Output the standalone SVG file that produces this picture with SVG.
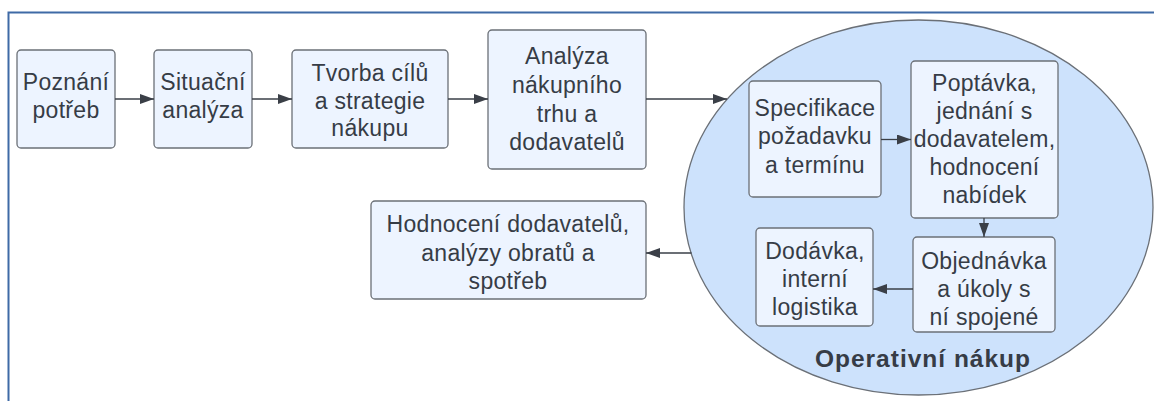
<svg xmlns="http://www.w3.org/2000/svg" width="1154" height="401" viewBox="0 0 1154 401">
  <defs>
    <marker id="arrow" markerWidth="14" markerHeight="10" refX="14" refY="5" orient="auto" markerUnits="userSpaceOnUse">
      <path d="M0,0 L14,5 L0,10 Z" fill="#3a3f47"/>
    </marker>
    <style>
      .frame { fill: none; stroke: #3f6aa6; stroke-width: 2; }
      .box { fill: #edf4ff; stroke: #6b7077; stroke-width: 1.3; }
      .group { fill: #cde2fc; stroke: #6b7077; stroke-width: 1.3; }
      .lbl { font-family: "Liberation Sans", Arial, sans-serif; font-size: 23px; letter-spacing: 0.3px; fill: #363c46; text-anchor: middle; }
      .title { font-family: "Liberation Sans", Arial, sans-serif; font-size: 24.5px; font-weight: bold; letter-spacing: 1px; fill: #363c46; text-anchor: middle; }
      .conn { fill: none; stroke: #3a3f47; stroke-width: 1.3; marker-end: url(#arrow); }
    </style>
  </defs>

  <rect width="1154" height="401" fill="#ffffff"/>

  <!-- page frame: top and left edges only -->
  <path class="frame" d="M8.5,401 L8.5,12.5 L1154,12.5"/>

  <g id="poznani-potreb">
    <rect class="box" x="17" y="50" width="98" height="98" rx="4"/>
    <text class="lbl"><tspan x="66" y="90">Poznání</tspan><tspan x="66" y="118">potřeb</tspan></text>
  </g>

  <g id="situacni-analyza">
    <rect class="box" x="154" y="50" width="98" height="98" rx="4"/>
    <text class="lbl"><tspan x="203" y="90">Situační</tspan><tspan x="203" y="118">analýza</tspan></text>
  </g>

  <g id="tvorba-cilu">
    <rect class="box" x="292" y="50" width="156" height="98" rx="4"/>
    <text class="lbl"><tspan x="370" y="81">Tvorba cílů</tspan><tspan x="370" y="108.5">a strategie</tspan><tspan x="370" y="136">nákupu</tspan></text>
  </g>

  <g id="analyza-trhu">
    <rect class="box" x="488" y="30" width="158" height="139" rx="4"/>
    <text class="lbl"><tspan x="567" y="64">Analýza</tspan><tspan x="567" y="93">nákupního</tspan><tspan x="567" y="121.5">trhu a</tspan><tspan x="567" y="150">dodavatelů</tspan></text>
  </g>

  <g id="hodnoceni-dodavatelu">
    <rect class="box" x="371" y="201" width="275" height="98" rx="4"/>
    <text class="lbl"><tspan x="508" y="232">Hodnocení dodavatelů,</tspan><tspan x="508" y="261">analýzy obratů a</tspan><tspan x="508" y="289">spotřeb</tspan></text>
  </g>

  <g id="operativni-nakup">
    <ellipse class="group" cx="918.5" cy="207.5" rx="234.5" ry="187.5"/>
    <text class="title" x="923" y="367">Operativní nákup</text>
  </g>

  <g id="specifikace">
    <rect class="box" x="749" y="81" width="132" height="116" rx="4"/>
    <text class="lbl"><tspan x="815" y="116">Specifikace</tspan><tspan x="815" y="144">požadavku</tspan><tspan x="815" y="172.5">a termínu</tspan></text>
  </g>

  <g id="poptavka">
    <rect class="box" x="911" y="61" width="147" height="157" rx="4"/>
    <text class="lbl"><tspan x="984.5" y="91">Poptávka,</tspan><tspan x="984.5" y="118.5">jednání s</tspan><tspan x="984.5" y="147">dodavatelem,</tspan><tspan x="984.5" y="175">hodnocení</tspan><tspan x="984.5" y="203">nabídek</tspan></text>
  </g>

  <g id="objednavka">
    <rect class="box" x="913" y="237" width="142" height="95" rx="4"/>
    <text class="lbl"><tspan x="984" y="268.5">Objednávka</tspan><tspan x="984" y="297">a úkoly s</tspan><tspan x="984" y="325">ní spojené</tspan></text>
  </g>

  <g id="dodavka">
    <rect class="box" x="756" y="228" width="117" height="98" rx="4"/>
    <text class="lbl"><tspan x="815" y="258.5">Dodávka,</tspan><tspan x="815" y="287">interní</tspan><tspan x="815" y="315">logistika</tspan></text>
  </g>

  <g id="connectors">
    <path class="conn" d="M115,99 L154,99"/>
    <path class="conn" d="M252,99 L292,99"/>
    <path class="conn" d="M448,99 L488,99"/>
    <path class="conn" d="M646,99 L727,99"/>
    <path class="conn" d="M881,139.5 L911,139.5"/>
    <path class="conn" d="M984,218 L984,237"/>
    <path class="conn" d="M913,289 L873,289"/>
    <path class="conn" d="M691.5,253 L646,253"/>
  </g>
</svg>
